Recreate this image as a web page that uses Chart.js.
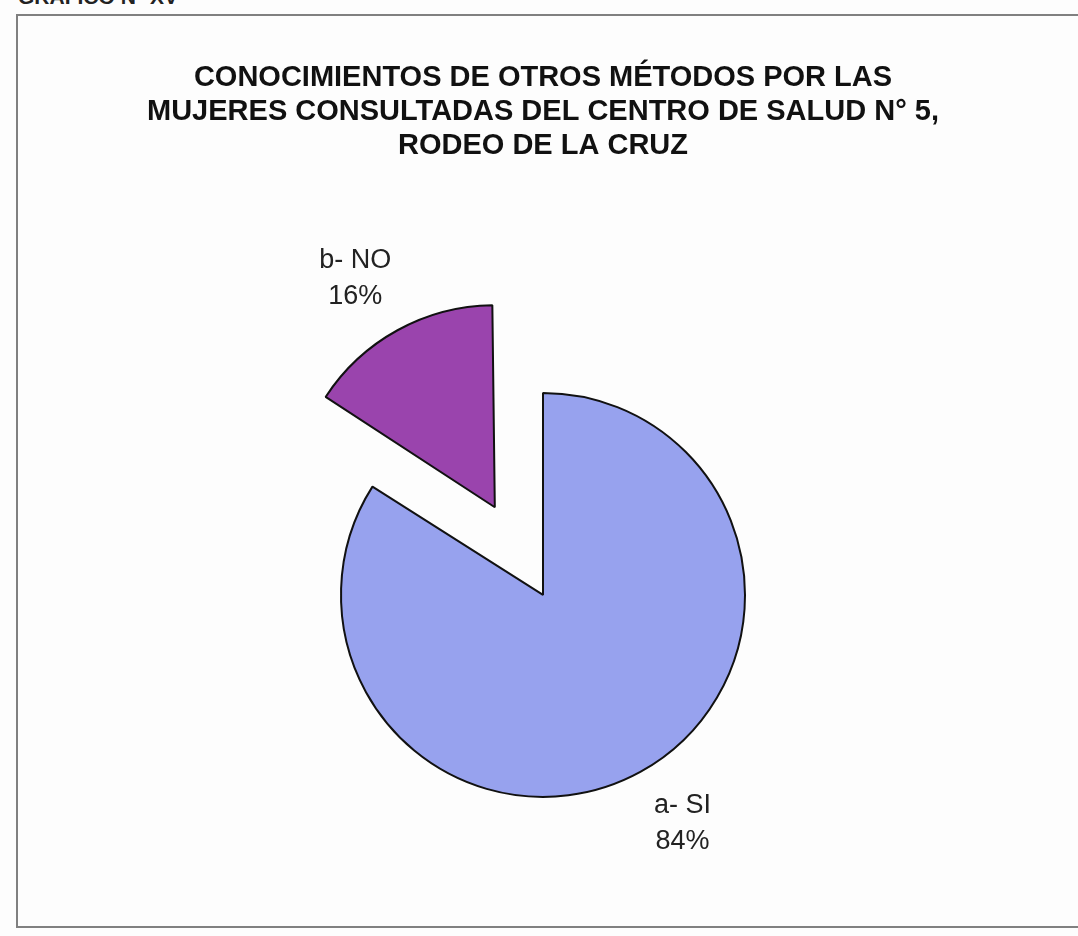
<!DOCTYPE html>
<html>
<head>
<meta charset="utf-8">
<script src="https://cdn.jsdelivr.net/npm/chart.js@4"></script>
<style>
    body { margin: 0; background: #fff; }
    #page { position: relative; width: 1078px; height: 936px; overflow: hidden; background: #fdfdfd; }
    #cut { position: absolute; left: 18px; top: -15px; font: bold 21px "Liberation Sans", Arial, sans-serif; color: #222; }
    #frame { position: absolute; left: 16px; top: 14px; width: 1090px; height: 914px; border: 2px solid #808080; box-sizing: border-box; }
    #box { position: absolute; left: 0; top: 0; width: 1078px; height: 936px; }
</style>
</head>
<body>
<div id="page">
    <div id="cut">GRAFICO N° XV</div>
    <div id="frame"></div>
    <div id="box"><canvas id="myChart"></canvas></div>
</div>
<script>
// datos del gráfico
const titleLines = [
    'CONOCIMIENTOS DE OTROS MÉTODOS POR LAS',
    'MUJERES CONSULTADAS DEL CENTRO DE SALUD N° 5,',
    'RODEO DE LA CRUZ'
];
const categories = ['a- SI', 'b- NO'];
const percentages = [84, 16];
const sliceColors = ['#97a2ee', '#9a44ad'];
const explode = [0, 400];   // el sector "NO" separado

const PIE_RADIUS = 202;

// mantiene el radio del sector separado igual al del resto
const fixRadius = {
    id: 'fixRadius',
    beforeDatasetsDraw(chart) {
        chart.getDatasetMeta(0).data.forEach(function(arc) {
            const off = (arc.options.offset || 0) / 4;
            const circ = arc.endAngle - arc.startAngle;
            const fix = 1 - Math.sin(Math.min(Math.PI, circ));
            arc.outerRadius = PIE_RADIUS - off * fix;
        });
    }
};

// etiquetas fuera de cada sector
const outsideLabels = {
    id: 'outsideLabels',
    afterDatasetsDraw(chart) {
        const ctx = chart.ctx;
        const meta = chart.getDatasetMeta(0);
        ctx.save();
        ctx.font = '27px "Liberation Sans", Arial, sans-serif';
        ctx.fillStyle = '#222';
        ctx.textAlign = 'center';
        ctx.textBaseline = 'middle';
        meta.data.forEach(function(arc, i) {
            const mid = (arc.startAngle + arc.endAngle) / 2;
            const off = (arc.options.offset || 0) / 4;
            const ang = mid - 0.045;
            const bx = arc.x + Math.cos(mid) * off;
            const by = arc.y + Math.sin(mid) * off;
            const d = PIE_RADIUS + 66;
            const x = bx + Math.cos(ang) * d;
            const y = by + Math.sin(ang) * d;
            ctx.fillText(categories[i], x, y - 18);
            ctx.fillText(percentages[i] + '%', x, y + 18);
        });
        ctx.restore();
    }
};

document.addEventListener('DOMContentLoaded', function() {
    const ctx = document.getElementById('myChart').getContext('2d');
    new Chart(ctx, {
        type: 'pie',
        data: {
            labels: categories,
            datasets: [{
                data: percentages,
                backgroundColor: sliceColors,
                borderColor: '#111',
                borderWidth: 2,
                offset: explode,
                radius: PIE_RADIUS
            }]
        },
        options: {
            responsive: true,
            maintainAspectRatio: false,
            animation: false,
            layout: { padding: { left: 8, right: 0, top: 0, bottom: 0 } },
            plugins: {
                legend: { display: false },
                tooltip: { enabled: false },
                title: {
                    display: true,
                    text: titleLines,
                    color: '#111',
                    font: { family: '"Liberation Sans", Arial, sans-serif', size: 29, weight: 'bold', lineHeight: 1.17 },
                    padding: { top: 61, bottom: 91 }
                }
            }
        },
        plugins: [fixRadius, outsideLabels]
    });
});
</script>
</body>
</html>
